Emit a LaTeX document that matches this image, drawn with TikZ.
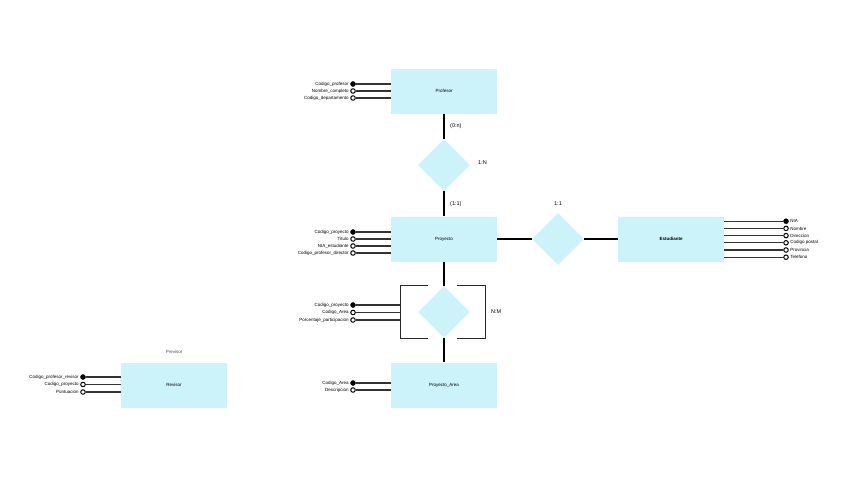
\documentclass[tikz,border=0pt]{standalone}
\usepackage{fontspec}
\setmainfont{Liberation Sans}
\usetikzlibrary{shapes.geometric}
\definecolor{entcyan}{RGB}{204,242,250}
\tikzset{
  entity/.style={fill=entcyan, minimum width=106pt, minimum height=45pt, inner sep=0pt, font=\fontsize{4.5}{5}\selectfont},
  relation/.style={diamond, fill=entcyan, minimum width=52pt, minimum height=52pt, inner sep=0pt},
  keyattr/.style={circle, fill=black, draw=black, inner sep=0pt, minimum size=5pt},
  attr/.style={circle, fill=white, draw=black, line width=1pt, inner sep=0pt, minimum size=4.5pt},
  attrlabel/.style={font=\fontsize{4.5}{5}\selectfont, inner sep=1.5pt},
  link/.style={line width=1.2pt},
  aggline/.style={line width=0.9pt, draw=black!85},
  attrline/.style={line width=1.3pt, draw=black!80},
  card/.style={font=\fontsize{5.5}{6}\selectfont, inner sep=1pt}
}

\begin{document}
\begin{tikzpicture}[x=1pt,y=-1pt]
\useasboundingbox (0,0) rectangle (848,477);

% entidades
\node[entity] (profesor) at (444,91) {Profesor};
\node[entity] (proyecto) at (444,239) {Proyecto};
\node[entity] (estudiante) at (671,239) {\textbf{Estudiante}};
\node[entity] (parea) at (444,385) {Proyecto\_Area};
\node[entity] (revisor) at (174,385) {Revisor};
\node[attrlabel, text=black!70] (revtit) at (174,352) {Previsor};

% relaciones
\node[relation] (dirige) at (444,165) {};
\node[relation] (realiza) at (558,239) {};
\node[relation] (pertenece) at (444,312) {};

\draw[link] (profesor) -- (dirige);
\draw[link] (dirige) -- (proyecto);
\draw[link] (proyecto) -- (realiza);
\draw[link] (realiza) -- (estudiante);
\draw[link] (proyecto) -- (pertenece);
\draw[link] (pertenece) -- (parea);

% agregacion
\draw[aggline] (428,285) -- (400,285) -- (400,338) -- (428,338);
\draw[aggline] (457,285) -- (485,285) -- (485,338) -- (457,338);
\coordinate (agleft) at (400,312);

% cardinalidades
\node[card, anchor=west] (c1) at (449,126) {(0:n)};
\node[card, anchor=west] (c2) at (477,163) {1:N};
\node[card, anchor=west] (c3) at (449,204) {(1:1)};
\node[card] (c4) at (558,204) {1:1};
\node[card, anchor=west] (c5) at (490,312) {N:M};

% atributos Profesor
\foreach \t/\s [count=\i] in {Codigo\_profesor/keyattr, Nombre\_completo/attr, Codigo\_departamento/attr} {
  \node[\s] (pfa\i) at (353,77+7*\i) {};
  \draw[attrline] (pfa\i) -- (pfa\i -| profesor.west);
  \node[attrlabel, anchor=east] (pfl\i) at (pfa\i.west) {\t};
}

% atributos Proyecto
\foreach \t/\s [count=\i] in {Codigo\_proyecto/keyattr, Titulo/attr, NIA\_estudiante/attr, Codigo\_profesor\_director/attr} {
  \node[\s] (pya\i) at (353,225+7*\i) {};
  \draw[attrline] (pya\i) -- (pya\i -| proyecto.west);
  \node[attrlabel, anchor=east] (pyl\i) at (pya\i.west) {\t};
}

% atributos relacion N:M
\foreach \t/\s [count=\i] in {Codigo\_proyecto/keyattr, Codigo\_Area/attr, Porcentaje\_participacion/attr} {
  \node[\s] (pta\i) at (353,297.5+7.5*\i) {};
  \draw[attrline] (pta\i) -- (pta\i -| agleft);
  \node[attrlabel, anchor=east] (ptl\i) at (pta\i.west) {\t};
}

% atributos Proyecto_Area
\foreach \t/\s [count=\i] in {Codigo\_Area/keyattr, Descripcion/attr} {
  \node[\s] (paa\i) at (353,376+7*\i) {};
  \draw[attrline] (paa\i) -- (paa\i -| parea.west);
  \node[attrlabel, anchor=east] (pal\i) at (paa\i.west) {\t};
}

% atributos Revisor
\foreach \t/\s [count=\i] in {Codigo\_profesor\_revisor/keyattr, Codigo\_proyecto/attr, Puntuacion/attr} {
  \node[\s] (rva\i) at (83,369.5+7.5*\i) {};
  \draw[attrline] (rva\i) -- (rva\i -| revisor.west);
  \node[attrlabel, anchor=east] (rvl\i) at (rva\i.west) {\t};
}

% atributos Estudiante
\foreach \t/\s [count=\i] in {NIA/keyattr, Nombre/attr, Direccion/attr, Codigo postal/attr, Provincia/attr, Telefono/attr} {
  \node[\s] (esa\i) at (786,214+7.2*\i) {};
  \draw[attrline] (esa\i) -- (esa\i -| estudiante.east);
  \node[attrlabel, anchor=west] (esl\i) at (esa\i.east) {\t};
}
\end{tikzpicture}
\end{document}
